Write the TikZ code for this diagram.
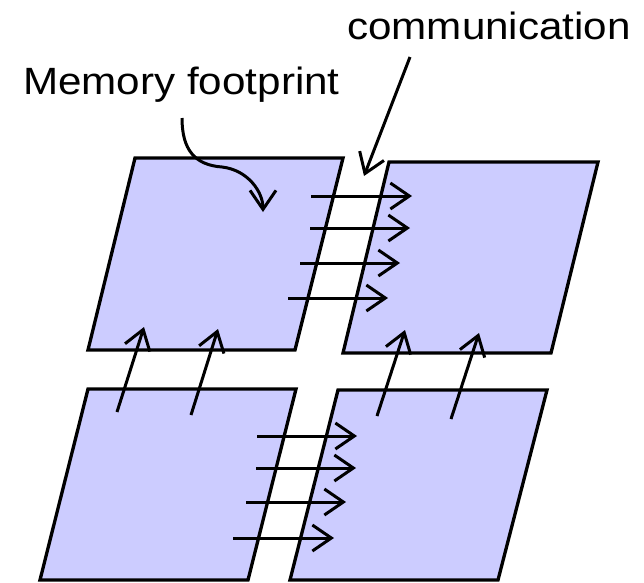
\documentclass[tikz,border=0pt]{standalone}
\usepackage{fontspec}
\setmainfont{Liberation Sans}
\usetikzlibrary{arrows.meta}
\definecolor{blockfill}{RGB}{204,204,255}
\tikzset{
  block/.style={fill=blockfill, draw=black, line width=3.3pt, line join=miter},
  flow/.style={line width=3pt, -{Straight Barb[length=19pt,width=26pt]}},
  label/.style={inner sep=0pt, font=\fontsize{38}{40}\selectfont}
}
\newcommand{\widetext}[1]{\scalebox{1.11}[1]{#1}}
\begin{document}
\begin{tikzpicture}[x=1pt, y=-1pt]
  \useasboundingbox (0,0) rectangle (644,582);

  % four memory blocks
  \draw[block] (135,158) -- (343,158) -- (295,350) -- (88,350) -- cycle;
  \draw[block] (389,162) -- (598,162) -- (551,353) -- (343,353) -- cycle;
  \draw[block] (88,389) -- (296,389) -- (248,580) -- (40,580) -- cycle;
  \draw[block] (338,390) -- (547,390) -- (498,580) -- (290,580) -- cycle;

  % labels
  \node[label, anchor=base west] (mem) at (23,94) {\widetext{Memory footprint}};
  \node[label, anchor=base west] (comm) at (347,39) {\widetext{communication}};

  % end points of the transfers
  \foreach \n/\xa/\xb/\y in {a1/311/412/196, a2/310/410/228, a3/300/400/263, a4/288/388/298,
                             b1/257/357/436, b2/256/356/468, b3/246/346/502, b4/233/334/538} {
    \coordinate (\n s) at (\xa,\y);
    \coordinate (\n e) at (\xb,\y);
  }
  \coordinate (v1s) at (117,412); \coordinate (v1e) at (144,327);
  \coordinate (v2s) at (191,415); \coordinate (v2e) at (218,329);
  \coordinate (v3s) at (377,416); \coordinate (v3e) at (405,330);
  \coordinate (v4s) at (451,419); \coordinate (v4e) at (479,333);

  % horizontal transfers
  \foreach \n in {a1,a2,a3,a4,b1,b2,b3,b4}
    \draw[flow] (\n s) -- (\n e);
  % vertical transfers
  \foreach \n in {v1,v2,v3,v4}
    \draw[flow] (\n s) -- (\n e);

  % callout arrows
  \coordinate (memtail) at (182,118);
  \coordinate (memtip) at (263,212);
  \draw[flow] (memtail) .. controls (182,150) and (195,165) .. (222,167)
                        .. controls (248,170) and (263,192) .. (memtip);
  \coordinate (commtail) at (410,57);
  \coordinate (commtip) at (364,176);
  \draw[flow] (commtail) -- (commtip);
\end{tikzpicture}
\end{document}
